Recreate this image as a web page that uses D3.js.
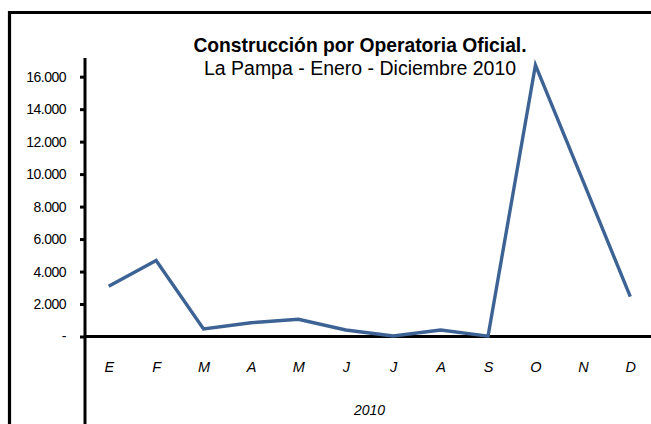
<!DOCTYPE html>
<html>
<head>
<meta charset="utf-8">
<script src="https://cdn.jsdelivr.net/npm/d3@7"></script>
<style>
  html, body { margin: 0; padding: 0; background: #fff; }
  svg { display: block; font-family: "Liberation Sans", Arial, sans-serif; }
</style>
</head>
<body>
<div id="chart"></div>
<script>
/* Data */
const monthLabels = ["E", "F", "M", "A", "M", "J", "J", "A", "S", "O", "N", "D"];
const values = [3100, 4680, 470, 850, 1060, 400, 30, 400, 20, 16720, 9600, 2450];
const yTicks = [0, 2000, 4000, 6000, 8000, 10000, 12000, 14000, 16000];
const titleLines = ["Construcción por Operatoria Oficial.", "La Pampa -  Enero - Diciembre 2010"];
const yearLabel = "2010";

const W = 651, H = 424;
const margin = { top: 58, left: 85, right: 654, zero: 336.5 };

const svg = d3.select("#chart").append("svg")
    .attr("width", W)
    .attr("height", H);

/* Outer frame (only top and left are visible) */
svg.append("path")
    .attr("d", `M9.5,${H + 5}V12.5H${W + 5}`)
    .attr("fill", "none")
    .attr("stroke", "#000")
    .attr("stroke-width", 3.2);

/* Scales */
const x = d3.scalePoint()
    .domain(d3.range(monthLabels.length))
    .range([margin.left, margin.right])
    .padding(0.5);

const y = d3.scaleLinear()
    .domain([0, 17150])
    .range([margin.zero, margin.top]);

const fmt = d3.formatLocale({ decimal: ",", thousands: ".", grouping: [3], currency: ["$", ""] }).format(",d");

/* Y axis */
const yAxis = svg.append("g")
    .attr("transform", `translate(${margin.left},0)`)
    .call(d3.axisLeft(y)
        .tickValues(yTicks)
        .tickSize(5)
        .tickSizeOuter(0)
        .tickPadding(14)
        .tickFormat(d => d === 0 ? "-" : fmt(d)));
yAxis.select(".domain").remove();
yAxis.selectAll(".tick line").attr("stroke", "#000").attr("stroke-width", 3);
yAxis.selectAll(".tick text")
    .attr("fill", "#000")
    .style("font-size", "14px")
    .style("letter-spacing", "-0.5px")
    .style("font-family", "'Liberation Sans', Arial, sans-serif");

svg.append("line")
    .attr("x1", margin.left).attr("x2", margin.left)
    .attr("y1", margin.top).attr("y2", H + 5)
    .attr("stroke", "#000")
    .attr("stroke-width", 3);

/* X axis */
const xAxis = svg.append("g")
    .attr("transform", `translate(0,${margin.zero})`)
    .call(d3.axisBottom(x)
        .tickSize(0)
        .tickPadding(25)
        .tickFormat(i => monthLabels[i]));
xAxis.select(".domain").remove();
xAxis.selectAll(".tick text")
    .attr("fill", "#000")
    .style("font-size", "14.5px")
    .style("font-style", "italic")
    .style("font-family", "'Liberation Sans', Arial, sans-serif");

svg.append("line")
    .attr("x1", margin.left).attr("x2", W + 5)
    .attr("y1", y(0)).attr("y2", y(0))
    .attr("stroke", "#000")
    .attr("stroke-width", 3);

svg.append("text")
    .attr("x", (margin.left + margin.right) / 2)
    .attr("y", 415)
    .attr("text-anchor", "middle")
    .style("font-size", "14px")
    .style("font-style", "italic")
    .text(yearLabel);

/* Title */
svg.append("text")
    .attr("x", 360)
    .attr("y", 52)
    .attr("text-anchor", "middle")
    .style("font-size", "19.3px")
    .style("font-weight", "bold")
    .text(titleLines[0]);

svg.append("text")
    .attr("x", 360)
    .attr("y", 75)
    .attr("text-anchor", "middle")
    .style("font-size", "19.5px")
    .text(titleLines[1]);

/* Series line */
const line = d3.line()
    .x((d, i) => x(i))
    .y(d => y(d));

svg.append("path")
    .datum(values)
    .attr("d", line)
    .attr("fill", "none")
    .attr("stroke", "#3d6394")
    .attr("stroke-width", 3.4)
    .attr("stroke-linejoin", "miter");
</script>
</body>
</html>
